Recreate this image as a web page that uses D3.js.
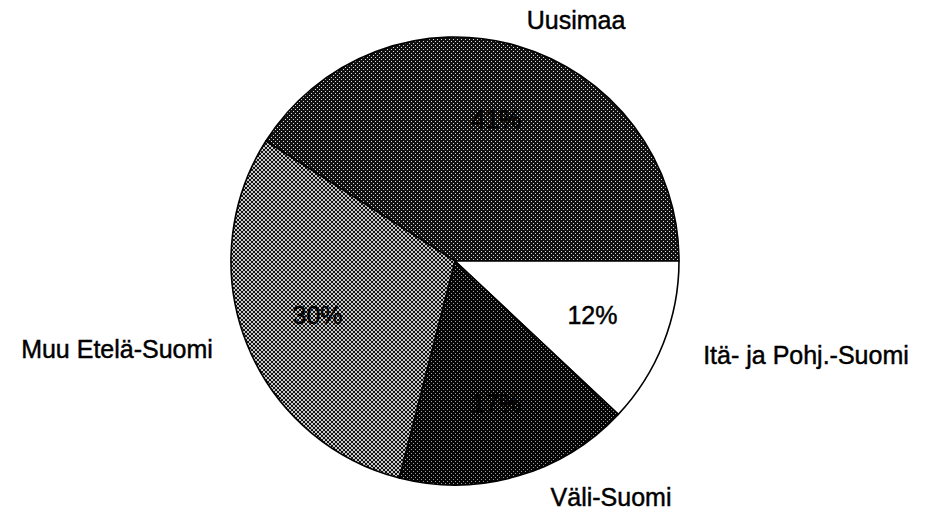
<!DOCTYPE html>
<html>
<head>
<meta charset="utf-8">
<script src="https://cdn.jsdelivr.net/npm/d3@7"></script>
<style>
body { margin: 0; background: #fff; }
text { font-family: "Liberation Sans", Arial, sans-serif; fill: #000; stroke: #000; stroke-width: 0.45px; }
</style>
</head>
<body>
<svg id="chart" width="926" height="514"></svg>
<script>
// regions and their shares (%)
const regions = ["Uusimaa", "Itä- ja Pohj.-Suomi", "Väli-Suomi", "Muu Etelä-Suomi"];
const shares = [41, 12, 17, 30];
const pctLabels = ["41%", "12%", "17%", "30%"];

const cx = 455, cy = 261, radius = 224;

const svg = d3.select("#chart");
const defs = svg.append("defs");

// halftone-like fills
function dotPattern(id, bg, dot, size) {
  const p = defs.append("pattern").attr("id", id)
    .attr("patternUnits", "userSpaceOnUse")
    .attr("width", size).attr("height", size);
  p.append("rect").attr("width", size).attr("height", size).attr("fill", bg);
  p.append("rect").attr("x", 0).attr("y", 0).attr("width", 1).attr("height", 1).attr("fill", dot);
  p.append("rect").attr("x", size / 2).attr("y", size / 2).attr("width", 1).attr("height", 1).attr("fill", dot);
}
dotPattern("pUusi", "#111", "#d8d8d8", 4);
dotPattern("pVali", "#050505", "#a0a0a0", 4);

const chk = defs.append("pattern").attr("id", "pMuu")
  .attr("patternUnits", "userSpaceOnUse").attr("width", 4).attr("height", 4);
chk.append("rect").attr("width", 4).attr("height", 4).attr("fill", "#c8c8c8");
chk.append("rect").attr("x", 0).attr("y", 0).attr("width", 2).attr("height", 2).attr("fill", "#111");
chk.append("rect").attr("x", 2).attr("y", 2).attr("width", 2).attr("height", 2).attr("fill", "#111");

const fills = d3.scaleOrdinal()
  .domain(regions)
  .range(["url(#pUusi)", "#ffffff", "url(#pVali)", "url(#pMuu)"]);

const data = regions.map((r, i) => ({ region: r, value: shares[i], pct: pctLabels[i] }));

// Uusimaa starts at the upper-left boundary and runs clockwise to 3 o'clock
const startDeg = 90 - shares[0] * 3.6;
const pie = d3.pie().sort(null).value(d => d.value)
  .startAngle(startDeg * Math.PI / 180)
  .endAngle((startDeg + 360) * Math.PI / 180);

const arc = d3.arc().innerRadius(0).outerRadius(radius);
const labelArc = d3.arc().innerRadius(radius * 0.66).outerRadius(radius * 0.66);

const g = svg.append("g").attr("transform", `translate(${cx},${cy})`);

g.selectAll("path.slice")
  .data(pie(data))
  .join("path")
  .attr("class", "slice")
  .attr("d", arc)
  .attr("fill", d => fills(d.data.region))
  .attr("stroke", "#000")
  .attr("stroke-width", 1.6)
  .attr("stroke-linejoin", "round");

// percentage labels inside slices
g.selectAll("text.pct")
  .data(pie(data))
  .join("text")
  .attr("class", "pct")
  .attr("transform", d => `translate(${labelArc.centroid(d)})`)
  .attr("text-anchor", "middle")
  .attr("dy", "0.35em")
  .style("font-size", "25px")
  .text(d => d.data.pct);

// region names outside the pie
const namePos = {
  "Uusimaa": [576, 29],
  "Itä- ja Pohj.-Suomi": [806, 364],
  "Väli-Suomi": [611, 506],
  "Muu Etelä-Suomi": [117, 358]
};

svg.selectAll("text.name")
  .data(data)
  .join("text")
  .attr("class", "name")
  .attr("x", d => namePos[d.region][0])
  .attr("y", d => namePos[d.region][1])
  .attr("text-anchor", "middle")
  .style("font-size", "25px")
  .text(d => d.region);
</script>
</body>
</html>
